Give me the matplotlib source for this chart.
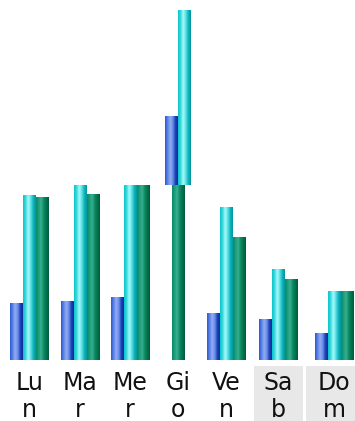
import numpy as np
import matplotlib
matplotlib.use("Agg")
import matplotlib.pyplot as plt
from matplotlib.colors import LinearSegmentedColormap
from matplotlib.patches import Rectangle

# Weekday categories and the three series
days = ["Lun", "Mar", "Mer", "Gio", "Ven", "Sab", "Dom"]
serie_blu = [57, 59, 63, 69, 47, 41, 27]
serie_ciano = [165, 175, 175, 175, 153, 91, 69]
serie_verde = [163, 166, 175, 175, 123, 81, 69]
weekend = ["Sab", "Dom"]

# Layout (horizontal centres of each group, bar width)
centres = [29.5, 80, 130, 178, 226.5, 278, 334]
bw = 13

grad_blu = LinearSegmentedColormap.from_list(
    "blu", ["#2a58d8", "#5b82e6", "#93adf2", "#6d8fe8", "#1c44bc", "#0c2c98"])
grad_ciano = LinearSegmentedColormap.from_list(
    "ciano", ["#0cc4cc", "#3ad8dc", "#a8fafa", "#5ee0e4", "#10b4bc", "#00969e"])
grad_verde = LinearSegmentedColormap.from_list(
    "verde", ["#0a8a66", "#1c9e7c", "#38b090", "#0e8a62", "#007450", "#005a3a"])

fig = plt.figure(figsize=(3.55, 4.21), dpi=100)
ax = fig.add_axes([0, 61 / 421, 1, 350 / 421])
ax.set_xlim(0, 355)
ax.set_ylim(0, 350)
ax.axis("off")

ramp = np.linspace(0, 1, 64).reshape(1, -1)


def shaded_bar(x, h, bottom, cmap):
    bars = ax.bar(x, h, width=bw, bottom=bottom, color="none",
                  linewidth=0, align="center")
    p = bars[0]
    x0, y0 = p.get_x(), p.get_y()
    im = ax.imshow(ramp, cmap=cmap, aspect="auto", interpolation="bilinear",
                   extent=[x0, x0 + p.get_width(), y0, y0 + p.get_height()],
                   zorder=2)
    im.set_clip_path(p)


for i, day in enumerate(days):
    c = centres[i]
    if day == "Gio":
        # overflowing group: blue and cyan stacked on top of the green bar
        shaded_bar(c, serie_verde[i], 0, grad_verde)
        shaded_bar(c - bw / 2, serie_blu[i], serie_verde[i], grad_blu)
        shaded_bar(c + bw / 2, serie_ciano[i], serie_verde[i], grad_ciano)
    else:
        shaded_bar(c - bw, serie_blu[i], 0, grad_blu)
        shaded_bar(c, serie_ciano[i], 0, grad_ciano)
        shaded_bar(c + bw, serie_verde[i], 0, grad_verde)

ax.set_xlim(0, 355)
ax.set_ylim(0, 350)

# Category labels, wrapped after two letters
for i, day in enumerate(days):
    c = centres[i]
    if day in weekend:
        left = 254 if day == "Sab" else 306
        ax.add_patch(Rectangle((left, -61), 48.5, 55, facecolor="#e8e8e8",
                               edgecolor="none", clip_on=False, zorder=0))
    ax.text(c, -23, day[:2], ha="center", va="center", fontsize=17,
            family="DejaVu Sans", color="#111111", clip_on=False)
    ax.text(c, -50, day[2:], ha="center", va="center", fontsize=17,
            family="DejaVu Sans", color="#111111", clip_on=False)

fig.savefig("out.png", dpi=100)
